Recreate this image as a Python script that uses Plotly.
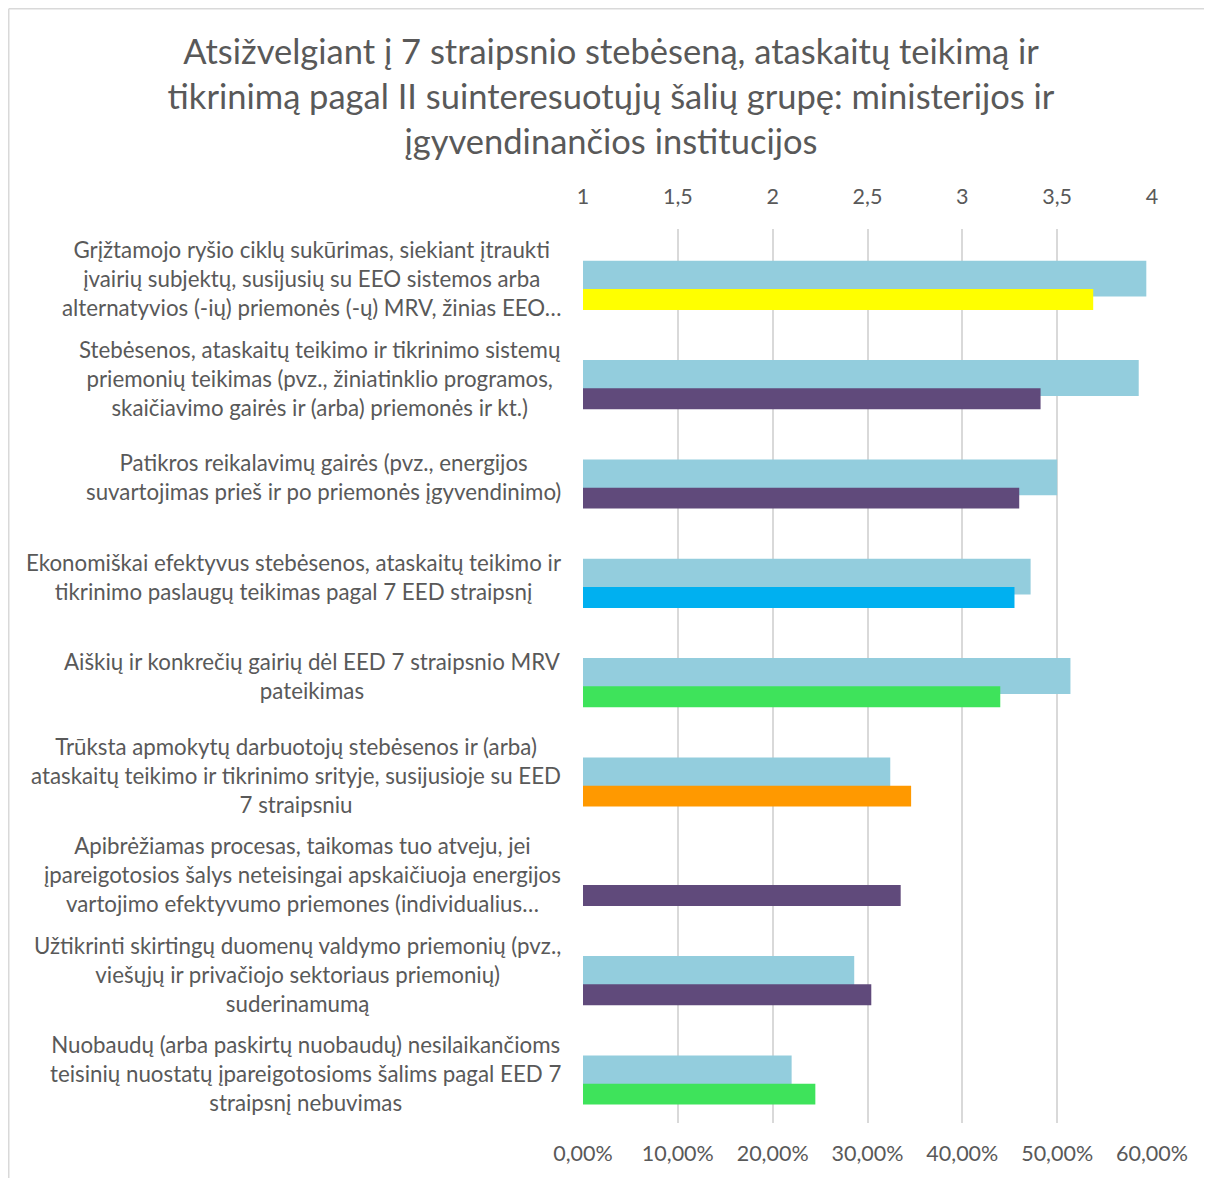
import plotly.graph_objects as go

# ---------------- data ----------------
categories = [
    "Grįžtamojo ryšio ciklų sukūrimas, siekiant įtraukti<br>įvairių subjektų, susijusių su EEO sistemos arba<br>alternatyvios (-ių) priemonės (-ų) MRV, žinias EEO…",
    "Stebėsenos, ataskaitų teikimo ir tikrinimo sistemų<br>priemonių teikimas (pvz., žiniatinklio programos,<br>skaičiavimo gairės ir (arba) priemonės ir kt.)",
    "Patikros reikalavimų gairės (pvz., energijos<br>suvartojimas prieš ir po priemonės įgyvendinimo)",
    "Ekonomiškai efektyvus stebėsenos, ataskaitų teikimo ir<br>tikrinimo paslaugų teikimas pagal 7 EED straipsnį",
    "Aiškių ir konkrečių gairių dėl EED 7 straipsnio MRV<br>pateikimas",
    "Trūksta apmokytų darbuotojų stebėsenos ir (arba)<br>ataskaitų teikimo ir tikrinimo srityje, susijusioje su EED<br>7 straipsniu",
    "Apibrėžiamas procesas, taikomas tuo atveju, jei<br>įpareigotosios šalys neteisingai apskaičiuoja energijos<br>vartojimo efektyvumo priemones (individualius…",
    "Užtikrinti skirtingų duomenų valdymo priemonių (pvz.,<br>viešųjų ir privačiojo sektoriaus priemonių)<br>suderinamumą",
    "Nuobaudų (arba paskirtų nuobaudų) nesilaikančioms<br>teisinių nuostatų įpareigotosioms šalims pagal EED 7<br>straipsnį nebuvimas",
]
mean_scores = [3.97, 3.93, 3.50, 3.36, 3.57, 2.62, None, 2.43, 2.10]      # top axis (1–4)
shares = [0.538, 0.4825, 0.460, 0.455, 0.440, 0.346, 0.335, 0.304, 0.245]  # bottom axis (%)
share_colors = ["#FFFF00", "#604A7B", "#604A7B", "#00B0F0", "#3EE35B",
                "#FF9900", "#604A7B", "#604A7B", "#3EE35B"]
top_ticks = [1, 1.5, 2, 2.5, 3, 3.5, 4]
bottom_ticks = [0, 0.1, 0.2, 0.3, 0.4, 0.5, 0.6]

title_text = ("Atsižvelgiant į 7 straipsnio stebėseną, ataskaitų teikimą ir<br>"
              "tikrinimą pagal II suinteresuotųjų šalių grupę: ministerijos ir<br>"
              "įgyvendinančios institucijos")

FONT = "Lato, 'Open Sans', sans-serif"
GRAY = "#595959"
GRID = "#D9D9D9"

W, H = 1204, 1170
ML, MR, MT, MB = 575, 60, 221, 55
PW = W - ML - MR
PH = H - MT - MB

fig = go.Figure()

fig.add_trace(go.Bar(
    x=mean_scores, y=categories, orientation="h",
    xaxis="x", yaxis="y",
    marker=dict(color="#93CDDD", line=dict(width=0)),
    width=0.36, offset=-0.18, showlegend=False,
    hoverinfo="x+y",
))
fig.add_trace(go.Bar(
    x=shares, y=categories, orientation="h",
    xaxis="x2", yaxis="y",
    marker=dict(color=share_colors, line=dict(width=0)),
    width=0.211, offset=0.104, showlegend=False,
    hoverinfo="x+y",
))

# category labels as centred multi-line annotations
for cat in categories:
    fig.add_annotation(
        x=0, xref="paper", y=cat, yref="y",
        xanchor="right", yanchor="middle", xshift=-20,
        text=cat, showarrow=False, align="center",
        font=dict(family=FONT, size=22.3, color=GRAY),
    )

fig.update_layout(
    width=W, height=H,
    paper_bgcolor="white", plot_bgcolor="white",
    separators=",.",
    margin=dict(l=ML, r=MR, t=MT, b=MB),
    title=dict(
        text=title_text, x=(611 - 8) / W, xanchor="center",
        y=1 - 56 / H, yanchor="top", yref="container",
        font=dict(family=FONT, size=34.5, color=GRAY),
    ),
    xaxis=dict(
        side="top", range=[1, 4], tickvals=top_ticks,
        showgrid=True, gridcolor=GRID, gridwidth=1.5,
        zeroline=False, showline=False,
        ticks="outside", ticklen=15, tickcolor="rgba(0,0,0,0)",
        tickfont=dict(family=FONT, size=21.5, color=GRAY),
        fixedrange=True,
    ),
    xaxis2=dict(
        overlaying="x", side="bottom", range=[0, 0.6], tickvals=bottom_ticks,
        tickformat=".2%", showgrid=False, zeroline=False, showline=False,
        ticks="outside", ticklen=11, tickcolor="rgba(0,0,0,0)",
        tickfont=dict(family=FONT, size=21.5, color=GRAY),
        fixedrange=True,
    ),
    yaxis=dict(
        type="category", autorange="reversed", showticklabels=False,
        showgrid=False, zeroline=False, showline=False, fixedrange=True,
    ),
)

# outer chart border (top and left edges visible in the reference)
x_left = (0.75 - ML) / PW
x_right = (W + 5 - ML) / PW
y_top = (MT + PH - 0.75) / PH
y_bot = (MT + PH - H - 5) / PH
fig.add_shape(type="line", xref="paper", yref="paper",
              x0=x_left, x1=x_right, y0=y_top, y1=y_top,
              line=dict(color=GRID, width=1.5), layer="below")
fig.add_shape(type="line", xref="paper", yref="paper",
              x0=x_left, x1=x_left, y0=y_top, y1=y_bot,
              line=dict(color=GRID, width=1.5), layer="below")

fig.write_html("out.html")
